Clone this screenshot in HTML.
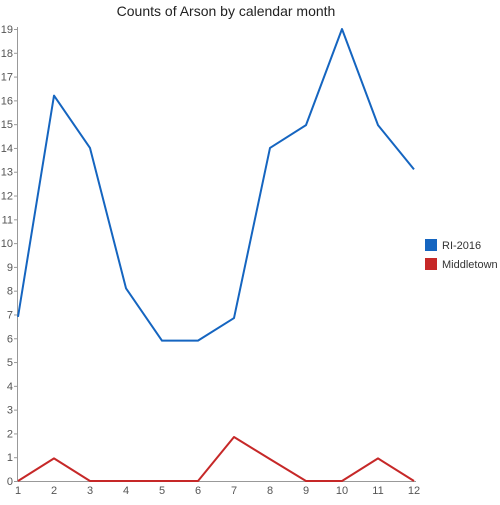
<!DOCTYPE html>
<html><head><meta charset="utf-8"><style>
body{margin:0;background:#fff}
svg text{font-family:"Liberation Sans",sans-serif;fill:#555}
</style></head><body>
<svg id="chart" width="500" height="500" xmlns="http://www.w3.org/2000/svg">
<text x="226" y="16" text-anchor="middle" font-size="14" style="fill:#222">Counts of Arson by calendar month</text>
<g id="axes"></g><g id="series"></g>
<g>
<rect x="425" y="239" width="12" height="12" fill="#1565c0"/>
<text x="442" y="249" font-size="11" style="fill:#333">RI-2016</text>
<rect x="425" y="258" width="12" height="12" fill="#c62828"/>
<text x="442" y="268" font-size="11" style="fill:#333">Middletown</text>
</g>
</svg>
<script>
const months=[1,2,3,4,5,6,7,8,9,10,11,12];
const riValues=[6.9,16.2,14,8.1,5.9,5.9,6.85,14,14.96,19,14.96,13.1];
const middletownValues=[0,0.95,0,0,0,0,1.85,0.92,0,0,0.95,0];
const yTicks=[0,1,2,3,4,5,6,7,8,9,10,11,12,13,14,15,16,17,18,19];
const NS="http://www.w3.org/2000/svg";
const x=m=>18+(m-1)*36;
const y=v=>481-v*(452/19);
const axes=document.getElementById('axes'),series=document.getElementById('series');
function mk(tag,attrs,parent){const e=document.createElementNS(NS,tag);for(const k in attrs)e.setAttribute(k,attrs[k]);parent.appendChild(e);return e;}
const ya=mk('line',{x1:17.5,y1:y(19)-2,x2:17.5,y2:481.5,stroke:'#999'},axes);


const xa=mk('line',{x1:17,y1:481.5,x2:x(12)+2,y2:481.5,stroke:'#999'},axes);


yTicks.forEach(v=>{
 mk('line',{x1:14,x2:17.5,y1:y(v)+0.5,y2:y(v)+0.5,stroke:'#999'},axes);
 const t=mk('text',{x:13,y:y(v)+4,'text-anchor':'end','font-size':11},axes);t.textContent=v;
 
 
});
months.forEach(m=>{
 const t=mk('text',{x:x(m),y:494,'text-anchor':'middle','font-size':11},axes);t.textContent=m;
 
 
});
function line(vals,color,name){
 const p=mk('polyline',{points:vals.map((v,i)=>x(months[i])+','+y(v)).join(' '),fill:'none',stroke:color,'stroke-width':2,'stroke-linejoin':'round'},series);
 
 
}
line(riValues,'#1565c0','ri-2016-line');
line(middletownValues,'#c62828','middletown-line');
</script>
</body></html>
